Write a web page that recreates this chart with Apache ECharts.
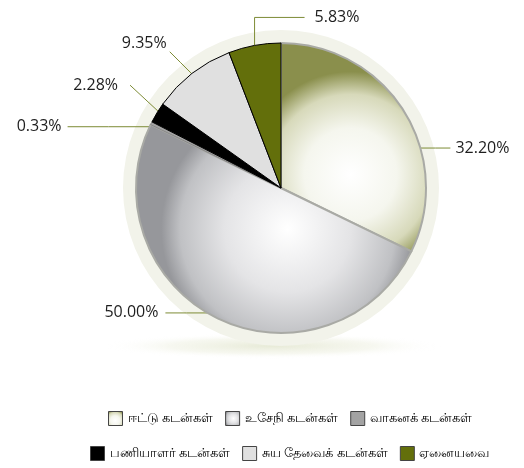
<!DOCTYPE html>
<html><head><meta charset="utf-8">
<script src="https://cdn.jsdelivr.net/npm/echarts@6/dist/echarts.min.js"></script>
<style>html,body{margin:0;padding:0;background:#fff}#c{width:524px;height:468px}</style>
</head><body><div id="c"></div>
<script>
var categories = ['ஈட்டு கடன்கள்','உசேநி கடன்கள்','வாகனக் கடன்கள்','பணியாளர் கடன்கள்','சுய தேவைக் கடன்கள்','ஏனையவை'];
var values = [32.20, 50.00, 0.33, 2.28, 9.35, 5.83];

// layout / style settings (not data)
var CX = 281, CY = 188, R = 145;
var fills = [
  {type:'radial',x:0.48,y:0.63,r:0.7,colorStops:[{offset:0,color:'#ffffff'},{offset:0.45,color:'#f5f6ee'},{offset:0.78,color:'#d7d9ba'},{offset:1,color:'#8a8f4c'}]},
  {type:'radial',x:0.55,y:0.5,r:0.6,colorStops:[{offset:0,color:'#ffffff'},{offset:0.5,color:'#e4e4e6'},{offset:0.85,color:'#c0c1c4'},{offset:1,color:'#96979b'}]},
  '#a3a3a3','#000000','#e0e0e0','#636f0b'
];
var borders = ['#a9aaa5','#a9aaa5','#888888','#000000','#000000','#000000'];
var borderW = [2,2,1,1,1,1];
// label guide: anchor angle on rim (deg clockwise from top), bend offsets, text offset and side
var guideAngle = [74, 210.5, 295, 302, 322, 349.5];
var guideBends = [[[30,0]], [[-42,0]], [[-82,0]], [[-28,-26]], [[-22,-22]], [[0,-28],[50,-28]]];
var textOffset = [[5,0,'left'], [-7,0,'right'], [-6,0,'right'], [-12,0,'right'], [-3,-8,'right'], [10,0,'left']];

var chart = echarts.init(document.getElementById('c'));
var data = categories.map(function(n,i){
  return {name:n, value:values[i], itemStyle:{color:fills[i], borderColor:borders[i], borderWidth:borderW[i]}};
});
function layoutLabel(p){
  var i = p.dataIndex;
  var a = guideAngle[i]*Math.PI/180;
  var x0 = CX + R*Math.sin(a), y0 = CY - R*Math.cos(a);
  var pts = [[x0,y0]];
  guideBends[i].forEach(function(b){ pts.push([x0+b[0], y0+b[1]]); });
  if (pts.length === 2) pts.splice(1,0,[(pts[0][0]+pts[1][0])/2,(pts[0][1]+pts[1][1])/2]);
  var last = pts[pts.length-1];
  var t = textOffset[i];
  return {x:last[0]+t[0], y:last[1]+t[1], align:t[2], verticalAlign:'middle', labelLinePoints:pts};
}
chart.setOption({
  animation:false,
  graphic:[{type:'circle',z:-10,x:272,y:346,scaleY:0.075,shape:{cx:0,cy:0,r:170},
    style:{fill:{type:'radial',x:0.5,y:0.5,r:0.5,colorStops:[{offset:0,color:'rgba(225,229,205,0.8)'},{offset:0.6,color:'rgba(238,240,225,0.5)'},{offset:1,color:'rgba(255,255,255,0)'}]}}}],
  legend:[
    {data:categories.slice(0,3), left:103, top:406, icon:'rect', itemWidth:14, itemHeight:14, itemGap:12,
     textStyle:{fontSize:13,color:'#000'}, selectedMode:false,
     itemStyle:{borderColor:'#444',borderWidth:1}},
    {data:categories.slice(3), left:85, top:441, icon:'rect', itemWidth:14, itemHeight:14, itemGap:12,
     textStyle:{fontSize:13,color:'#000'}, selectedMode:false,
     itemStyle:{borderColor:'#444',borderWidth:1}}
  ],
  series:[
    {type:'pie', silent:true, center:[CX,CY], radius:[0,158], z:1,
     data:[{value:1,itemStyle:{color:'#f2f3ea'}}], label:{show:false}, labelLine:{show:false}},
    {type:'pie', center:[CX,CY], radius:[0,R], startAngle:90, clockwise:true, z:2,
     avoidLabelOverlap:false,
     data:data,
     label:{show:true, formatter:function(p){return p.value.toFixed(2)+'%';}, fontSize:16, color:'#1e1e1e', fontFamily:'Open Sans'},
     labelLine:{show:true, length:10, length2:10, lineStyle:{color:'#7d8b35',width:1}},
     labelLayout:layoutLabel
    }
  ]
});
</script></body></html>
